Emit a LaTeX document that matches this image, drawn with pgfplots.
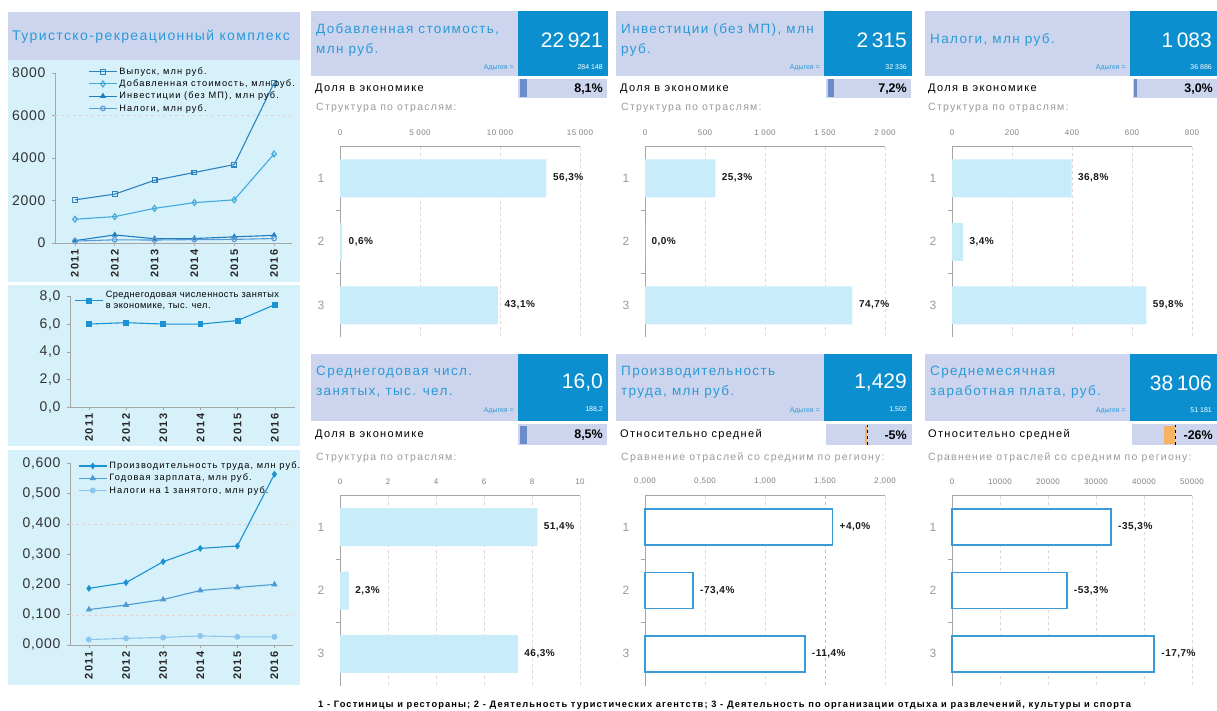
\documentclass[border=0pt]{standalone}
\usepackage{fontspec}
\setmainfont{Liberation Sans}
\newfontfamily\spc[LetterSpace=5]{Liberation Sans}
\newfontfamily\spcA[LetterSpace=10]{Liberation Sans}
\newfontfamily\spcB[LetterSpace=12]{Liberation Sans}
\usepackage{pgfplots}
\pgfplotsset{compat=1.18}
\usepackage{xcolor}
\newcommand\fs[1]{\fontsize{#1}{#1}\selectfont}

\definecolor{panelbg}{HTML}{D7F1FB}
\definecolor{headbg}{HTML}{CDD5EE}
\definecolor{headdark}{HTML}{0B8FCF}
\definecolor{titleblue}{HTML}{2A9AD6}
\definecolor{barfill}{HTML}{C8ECFA}
\definecolor{barline}{HTML}{3A9BD8}
\definecolor{axgray}{HTML}{A6A6A6}
\definecolor{ticktext}{HTML}{808080}
\definecolor{gridc}{HTML}{E6D2D2}
\definecolor{shareb}{HTML}{6A8CC8}
\definecolor{orangeb}{HTML}{F7B362}
\definecolor{lineA}{HTML}{2E82BE}
\definecolor{lineB}{HTML}{43A8DD}
\definecolor{lineC}{HTML}{1F7EBF}
\definecolor{lineD}{HTML}{5A9AD3}
\definecolor{lineE}{HTML}{1B92D2}
\definecolor{lineF}{HTML}{4E9AD2}
\definecolor{lineG}{HTML}{8CC6EC}

\pgfplotsset{
  /pgf/number format/assume math mode=true,
  leftpanel/.style={
    scale only axis, clip=false,
    axis lines*=left,
    axis line style={axgray, line width=0.9pt},
    tick style={axgray, line width=0.6pt},
    tick align=outside, major tick length=3pt,
    xtick={2011,...,2016},
    xticklabel style={rotate=90, anchor=east, font=\spcB\fs{11}\bfseries, text=black!85},
    yticklabel style={font=\spc\fs{14}, text=black!80, xshift=-3pt},
    /pgf/number format/1000 sep={},
    legend style={draw=none, fill=none, font=\spcB\fontsize{9.2}{11}\selectfont,
      inner sep=0pt, row sep=0pt, cells={anchor=west, align=left}},
    legend cell align=left,
    legend image code/.code={\draw[mark repeat=2,mark phase=2]
      plot coordinates {(0pt,0pt) (14pt,0pt) (28pt,0pt)};},
    every axis plot/.append style={line width=1.1pt},
  },
  structbar/.style={
    scale only axis, width=240pt, height=190.5pt,
    xbar, bar width=38pt, bar shift=0pt,
    y dir=reverse, ymin=0.5, ymax=3.5, ytick={1,2,3}, minor ytick={1.5,2.5},
    xmin=0,
    axis x line*=top, axis y line*=left,
    x axis line style={axgray, line width=1.8pt},
    y axis line style={axgray, line width=0.8pt},
    tick align=outside,
    major x tick style={draw=none}, major y tick style={draw=none},
    minor y tick style={axgray, line width=0.6pt}, minor tick length=4pt,
    xmajorgrids, major x grid style={gridc, dashed, line width=0.5pt},
    xticklabel style={font=\spc\fs{8}, text=ticktext, yshift=3pt},
    yticklabel style={font=\fs{12}, text=ticktext!80, xshift=-8pt},
    scaled x ticks=false,
    point meta=explicit symbolic,
    nodes near coords,
    nodes near coords style={font=\spc\fs{10}\bfseries, text=black!90, anchor=west, xshift=3pt},
    clip=false,
  },
  sharebar/.style={
    scale only axis, hide axis, xbar, bar width=18pt, bar shift=0pt,
    xmin=0, xmax=100, ymin=0.5, ymax=1.5, width=86pt, height=19pt, clip=false,
  },
  relbar/.style={
    scale only axis, hide axis, xbar, bar width=18pt, bar shift=0pt,
    xmin=-100, xmax=0, ymin=0.5, ymax=1.5, height=20pt, clip=false,
  },
}

% #1 left, #2 split, #3 right, #4 top, #5 bottom, #6 big value, #7 region value
\newcommand\headbox[7]{%
  \fill[headbg] (#1,-#4) rectangle (#2,-#5);
  \fill[headdark] (#2,-#4) rectangle (#3,-#5);
  \node[anchor=east, text=white, font=\fs{21}, inner sep=0pt] at (#3-5,-#4-29) {#6};
  \node[anchor=east, text=white, font=\fs{7}, inner sep=0pt] at (#3-5,-#4-56) {#7};
  \node[anchor=east, text=titleblue, font=\fs{7}, inner sep=0pt] at (#2-4,-#4-57) {Адыгея =};
}

\begin{document}
\begin{tikzpicture}[x=1pt,y=1pt]
\useasboundingbox (0,0) rectangle (1217,-711);

% left column
\fill[headbg] (8,-12) rectangle (300,-60);
\node[anchor=west, text=titleblue, font=\spcA\fs{14}, inner sep=0pt] at (12,-37) {Туристско-рекреационный комплекс};
\fill[panelbg] (8,-60) rectangle (300,-282);
\fill[panelbg] (8,-285) rectangle (300,-446);
\fill[panelbg] (8,-450) rectangle (300,-685);

\begin{axis}[leftpanel, at={(55pt,-243pt)}, anchor=south west, width=237pt, height=170pt,
  xmin=2010.5, xmax=2016.45, ymin=0, ymax=8000, ytick={0,2000,...,8000},
  extra y ticks={6000}, extra y tick labels={},
  extra y tick style={grid=major, major tick length=0pt, major grid style={gridc, dashed}},
  legend style={at={(0.14,1.045)}, anchor=north west}]
\addplot[lineA, mark=square, mark size=2.4pt, mark options={fill=white, solid}]
  coordinates {(2011,2030) (2012,2300) (2013,2950) (2014,3320) (2015,3690) (2016,7530)};
\addlegendentry{Выпуск, млн руб.}
\addplot[lineB, mark=diamond, mark size=3pt, mark options={fill=white, solid}]
  coordinates {(2011,1120) (2012,1240) (2013,1630) (2014,1900) (2015,2030) (2016,4190)};
\addlegendentry{Добавленная стоимость, млн руб.}
\addplot[lineC, mark=triangle*, mark size=2.5pt]
  coordinates {(2011,110) (2012,380) (2013,200) (2014,210) (2015,290) (2016,360)};
\addlegendentry{Инвестиции (без МП), млн руб.}
\addplot[lineD, mark=o, mark size=2.3pt, mark options={fill=white, solid}]
  coordinates {(2011,90) (2012,150) (2013,140) (2014,160) (2015,170) (2016,210)};
\addlegendentry{Налоги, млн руб.}
\end{axis}

\begin{axis}[leftpanel, at={(70pt,-407.3pt)}, anchor=south west, width=225pt, height=111pt,
  xmin=2010.49, xmax=2016.54, ymin=0, ymax=8, ytick={0,2,4,6,8},
  yticklabel style={/pgf/number format/fixed, /pgf/number format/fixed zerofill,
    /pgf/number format/precision=1, /pgf/number format/use comma, /pgf/number format/1000 sep={}},
  legend style={at={(0.02,1.065)}, anchor=north west, font=\spc\fontsize{9.2}{11}\selectfont}]
\addplot[lineE, mark=square*, mark size=2.4pt]
  coordinates {(2011,6.0) (2012,6.1) (2013,6.0) (2014,6.0) (2015,6.25) (2016,7.4)};
\addlegendentry{Среднегодовая численность занятых\\в экономике, тыс. чел.}
\end{axis}

\begin{axis}[leftpanel, at={(70pt,-645pt)}, anchor=south west, width=223pt, height=181.7pt,
  xmin=2010.49, xmax=2016.5, ymin=0, ymax=0.6, ytick={0,0.1,0.2,0.3,0.4,0.5,0.6},
  yticklabel style={/pgf/number format/fixed, /pgf/number format/fixed zerofill,
    /pgf/number format/precision=3, /pgf/number format/use comma, /pgf/number format/1000 sep={}},
  extra y ticks={0.1,0.4}, extra y tick labels={},
  extra y tick style={grid=major, major tick length=0pt, major grid style={gridc, dashed}},
  legend style={at={(0.036,1.02)}, anchor=north west}]
\addplot[lineE, mark=diamond*, mark size=2.6pt]
  coordinates {(2011,0.187) (2012,0.206) (2013,0.275) (2014,0.319) (2015,0.327) (2016,0.564)};
\addlegendentry{Производительность труда, млн руб.}
\addplot[lineF, mark=triangle*, mark size=2.6pt]
  coordinates {(2011,0.117) (2012,0.132) (2013,0.150) (2014,0.180) (2015,0.190) (2016,0.200)};
\addlegendentry{Годовая зарплата, млн руб.}
\addplot[lineG, mark=*, mark size=2.4pt]
  coordinates {(2011,0.018) (2012,0.022) (2013,0.025) (2014,0.030) (2015,0.027) (2016,0.027)};
\addlegendentry{Налоги на 1 занятого, млн руб.}
\end{axis}

% headers, row 1
\headbox{311}{518}{608}{11}{76}{22\,921}{284 148}
\node[anchor=north west, align=left, text=titleblue, font=\spcA\fontsize{13.5}{20}\selectfont, inner sep=0pt] at (316,-23) {Добавленная стоимость,\\млн руб.};
\headbox{616}{824}{912}{11}{76}{2\,315}{32 336}
\node[anchor=north west, align=left, text=titleblue, font=\spcA\fontsize{13.5}{20}\selectfont, inner sep=0pt] at (621,-23) {Инвестиции (без МП), млн\\руб.};
\headbox{925}{1130}{1217}{11}{76}{1\,083}{36 886}
\node[anchor=west, text=titleblue, font=\spcA\fs{13.5}, inner sep=0pt] at (930,-40) {Налоги, млн руб.};

% headers, row 2
\headbox{311}{518}{608}{354}{421}{16,0}{188,2}
\node[anchor=north west, align=left, text=titleblue, font=\spcA\fontsize{13.5}{20}\selectfont, inner sep=0pt] at (316,-366) {Среднегодовая числ.\\занятых, тыс. чел.};
\headbox{616}{824}{912}{354}{421}{1,429}{1,502}
\node[anchor=north west, align=left, text=titleblue, font=\spcA\fontsize{13.5}{20}\selectfont, inner sep=0pt] at (621,-366) {Производительность\\труда, млн руб.};
\headbox{925}{1130}{1217}{354}{421}{38\,106}{51 181}
\node[anchor=north west, align=left, text=titleblue, font=\spcA\fontsize{13.5}{20}\selectfont, inner sep=0pt] at (930,-366) {Среднемесячная\\заработная плата, руб.};

% share rows
\fill[headbg] (518,-79) rectangle (607,-98);
\fill[headbg] (826,-79) rectangle (911,-98);
\fill[headbg] (1133,-79) rectangle (1217,-98);
\fill[headbg] (518,-424) rectangle (607,-445);
\fill[headbg] (826,-424) rectangle (912,-445);
\fill[headbg] (1132,-424) rectangle (1217,-445);

\begin{axis}[sharebar, at={(520pt,-97.5pt)}, anchor=south west]
\addplot[fill=shareb, draw=none] coordinates {(8.1,1)};
\end{axis}
\begin{axis}[sharebar, at={(828pt,-97.5pt)}, anchor=south west]
\addplot[fill=shareb, draw=none] coordinates {(7.2,1)};
\end{axis}
\begin{axis}[sharebar, at={(1134pt,-97.5pt)}, anchor=south west]
\addplot[fill=shareb, draw=none] coordinates {(3.0,1)};
\end{axis}
\begin{axis}[sharebar, at={(520pt,-444.5pt)}, anchor=south west]
\addplot[fill=shareb, draw=none] coordinates {(8.5,1)};
\end{axis}
\begin{axis}[relbar, at={(826pt,-444.5pt)}, anchor=south west, width=41pt]
\addplot[fill=orangeb, draw=none] coordinates {(-5,1)};
\draw[black, dashed, line width=0.9pt] (axis cs:0,0.5) -- (axis cs:0,1.5);
\end{axis}
\begin{axis}[relbar, at={(1132pt,-444.5pt)}, anchor=south west, width=43pt]
\addplot[fill=orangeb, draw=none] coordinates {(-26,1)};
\draw[black, dashed, line width=0.9pt] (axis cs:0,0.5) -- (axis cs:0,1.5);
\end{axis}

\foreach \x/\t in {315/Доля в экономике, 620/Доля в экономике, 928/Доля в экономике}
  \node[anchor=west, font=\spcB\fs{11}, inner sep=0pt] at (\x,-89) {\t};
\node[anchor=west, font=\spcB\fs{11}, inner sep=0pt] at (315,-435) {Доля в экономике};
\node[anchor=west, font=\spcB\fs{11}, inner sep=0pt] at (620,-435) {Относительно средней};
\node[anchor=west, font=\spcB\fs{11}, inner sep=0pt] at (928,-435) {Относительно средней};

\node[anchor=east, font=\fs{12.5}\bfseries, inner sep=0pt] at (603,-89) {8,1\%};
\node[anchor=east, font=\fs{12.5}\bfseries, inner sep=0pt] at (907,-89) {7,2\%};
\node[anchor=east, font=\fs{12.5}\bfseries, inner sep=0pt] at (1213,-89) {3,0\%};
\node[anchor=east, font=\fs{12.5}\bfseries, inner sep=0pt] at (603,-435) {8,5\%};
\node[anchor=east, font=\fs{12.5}\bfseries, inner sep=0pt] at (907,-435) {-5\%};
\node[anchor=east, font=\fs{12.5}\bfseries, inner sep=0pt] at (1213,-435) {-26\%};

\foreach \x in {316,621,928}
  \node[anchor=west, text=ticktext!80, font=\spcB\fs{10.5}, inner sep=0pt] at (\x,-108) {Структура по отраслям:};
\node[anchor=west, text=ticktext!80, font=\spcB\fs{10.5}, inner sep=0pt] at (316,-458) {Структура по отраслям:};
\node[anchor=west, text=ticktext!80, font=\spcB\fs{10.5}, inner sep=0pt] at (621,-458) {Сравнение отраслей со средним по региону:};
\node[anchor=west, text=ticktext!80, font=\spcB\fs{10.5}, inner sep=0pt] at (928,-458) {Сравнение отраслей со средним по региону:};

% structure charts, row 1
\begin{axis}[structbar, at={(340pt,-146.5pt)}, anchor=north west, xmax=15000,
  xtick={0,5000,10000,15000}, xticklabel style={/pgf/number format/1000 sep={\ }}]
\addplot[fill=barfill, draw=none] coordinates {(12905,1) [56,3\%] (138,2) [0,6\%] (9879,3) [43,1\%]};
\end{axis}
\begin{axis}[structbar, at={(645pt,-146.5pt)}, anchor=north west, xmax=2000,
  xtick={0,500,1000,1500,2000}, xticklabel style={/pgf/number format/1000 sep={\ }}]
\addplot[fill=barfill, draw=none] coordinates {(586,1) [25,3\%] (0,2) [0,0\%] (1729,3) [74,7\%]};
\end{axis}
\begin{axis}[structbar, at={(952pt,-146.5pt)}, anchor=north west, xmax=800,
  xtick={0,200,400,600,800}]
\addplot[fill=barfill, draw=none] coordinates {(398.5,1) [36,8\%] (36.8,2) [3,4\%] (647.6,3) [59,8\%]};
\end{axis}

% row 2
\begin{axis}[structbar, at={(340pt,-495.5pt)}, anchor=north west, height=190pt, xmax=10,
  xtick={0,2,4,6,8,10}]
\addplot[fill=barfill, draw=none] coordinates {(8.22,1) [51,4\%] (0.37,2) [2,3\%] (7.41,3) [46,3\%]};
\end{axis}
\begin{axis}[structbar, at={(645pt,-495.5pt)}, anchor=north west, height=190pt, xmax=2,
  xtick={0,0.5,1,1.5,2},
  xticklabel style={/pgf/number format/fixed, /pgf/number format/fixed zerofill,
    /pgf/number format/precision=3, /pgf/number format/use comma}]
\draw[orangeb, dashed, line width=0.8pt] (axis cs:1.502,0.5) -- (axis cs:1.502,3.5);
\addplot[fill=white, draw=barline, line width=1.8pt, bar width=36pt]
  coordinates {(1.562,1) [+4,0\%] (0.400,2) [-73,4\%] (1.331,3) [-11,4\%]};
\end{axis}
\begin{axis}[structbar, at={(952pt,-495.5pt)}, anchor=north west, height=190pt, xmax=50000,
  xtick={0,10000,20000,30000,40000,50000}, xticklabel style={/pgf/number format/1000 sep={}}]
\addplot[fill=white, draw=barline, line width=1.8pt, bar width=36pt]
  coordinates {(33120,1) [-35,3\%] (23902,2) [-53,3\%] (42122,3) [-17,7\%]};
\end{axis}

\node[anchor=west, font=\spcB\fs{9.3}\bfseries, inner sep=0pt] at (318,-705)
  {1 - Гостиницы и рестораны; 2 - Деятельность туристических агентств; 3 - Деятельность по организации отдыха и развлечений, культуры и спорта};
\end{tikzpicture}
\end{document}
